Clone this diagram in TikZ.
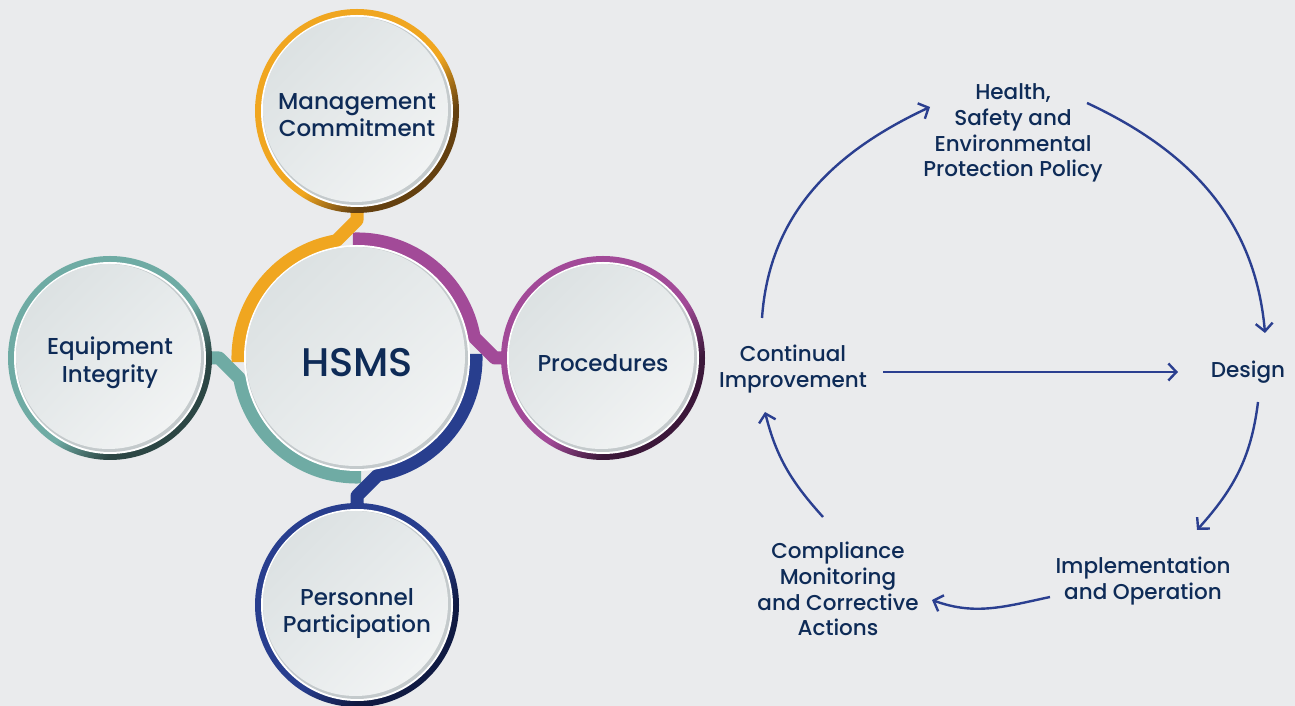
\documentclass[tikz,border=0pt]{standalone}
\usepackage{fontspec}
\setmainfont{Poppins}[UprightFont=* Medium]
\usetikzlibrary{arrows.meta,shadings}
\definecolor{bgc}{RGB}{234,235,237}
\definecolor{txt}{RGB}{14,43,87}
\definecolor{arrc}{RGB}{43,63,144}
\definecolor{oM}{RGB}{240,166,32}
\definecolor{oD}{RGB}{100,64,16}
\definecolor{pM}{RGB}{162,74,152}
\definecolor{pD}{RGB}{60,24,58}
\definecolor{nM}{RGB}{40,62,142}
\definecolor{nD}{RGB}{16,26,66}
\definecolor{tM}{RGB}{111,171,164}
\definecolor{tD}{RGB}{44,70,68}
\definecolor{gA}{RGB}{216,222,223}
\definecolor{gB}{RGB}{246,247,247}
\definecolor{gM}{RGB}{230,234,235}
\definecolor{shd}{RGB}{196,202,204}
\pgfdeclareverticalshading{ringO}{100bp}{color(0bp)=(oD); color(33bp)=(oD); color(45bp)=(oM); color(100bp)=(oM)}
\pgfdeclareverticalshading{ringP}{100bp}{color(0bp)=(pD); color(33bp)=(pD); color(45bp)=(pM); color(100bp)=(pM)}
\pgfdeclareverticalshading{ringN}{100bp}{color(0bp)=(nD); color(33bp)=(nD); color(45bp)=(nM); color(100bp)=(nM)}
\pgfdeclareverticalshading{ringT}{100bp}{color(0bp)=(tD); color(33bp)=(tD); color(45bp)=(tM); color(100bp)=(tM)}
\tikzset{
  innerdisc/.style={upper left=gA, upper right=gM, lower left=gM, lower right=gB},
  sattext/.style={align=center, text=txt, font=\fontsize{23}{27.5}\selectfont, inner sep=0pt},
  cyctext/.style={align=center, text=txt, font=\fontsize{21.5}{25.7}\selectfont, inner sep=0pt},
  arr/.style={line width=2.4pt, draw=arrc, -{Straight Barb[length=8pt,width=17pt]}},
  ringpiece/.style={line width=13pt, line join=round},
}
\begin{document}
\begin{tikzpicture}[x=1pt,y=1pt]
\fill[bgc] (0,0) rectangle (1295,706);
\useasboundingbox (0,0) rectangle (1295,706);
\coordinate (H) at (357,348);
\coordinate (T) at (357,595);
\coordinate (R) at (603,348);
\coordinate (B) at (357,101);
\coordinate (L) at (110,348);
% ring pieces with connectors
\foreach \ang/\col in {180/tM,-90/nM,0/pM,90/oM}{
  \begin{scope}[shift={(H)}, rotate=\ang]
    \draw[ringpiece, draw=\col] (150,0) -- (137.9,0) -- (117.2,20.7) arc[start angle=10, end angle=92, radius=119];
  \end{scope}
}
% HSMS disc
\fill[white] (H) circle (113);
\fill[shd] (H) circle (111);
\shade[innerdisc] ([shift={(-1.5,1.5)}]H) circle (109.5);
\node[text=txt, font=\fontsize{40}{42}\selectfont, inner sep=0pt] (hsms) at ([yshift=-5]H) {HSMS};
% satellites
\foreach \c/\sh in {T/ringO,R/ringP,B/ringN,L/ringT}{
  \shade[shading=\sh, shading angle=45] (\c) circle (102);
  \fill[white] (\c) circle (96);
  \fill[shd] (\c) circle (94);
  \shade[innerdisc] ([shift={(-1.5,1.5)}]\c) circle (92.5);
}
\node[sattext] (mc) at ([yshift=-4]T) {Management\\Commitment};
\node[sattext] (pr) at ([yshift=-5]R) {Procedures};
\node[sattext] (pp) at ([yshift=-8.5]B) {Personnel\\Participation};
\node[sattext] (ei) at ([yshift=-5]L) {Equipment\\Integrity};
% cycle texts
\node[cyctext] (pol) at (1013,573) {Health,\\Safety and\\Environmental\\Protection Policy};
\node[cyctext] (ci) at (793,337) {Continual\\Improvement};
\node[cyctext] (des) at (1248,334) {Design};
\node[cyctext] (imp) at (1143,125) {Implementation\\and Operation};
\node[cyctext] (cm) at (838,117) {Compliance\\Monitoring\\and Corrective\\Actions};
% arrow end points
\coordinate (a1s) at (762,388); \coordinate (a1e) at (930,599);
\coordinate (a2s) at (1087,603); \coordinate (a2e) at (1265,373);
\coordinate (a3s) at (883,334); \coordinate (a3e) at (1178,334);
\coordinate (a4s) at (1258,304); \coordinate (a4e) at (1197,176);
\coordinate (a5s) at (1050,109); \coordinate (a5e) at (932,106);
\coordinate (a6s) at (823,189); \coordinate (a6e) at (765,294);
\draw[arr] (a1s) to[out=86, in=205] (a1e);
\draw[arr] (a2s) to[out=-25, in=95] (a2e);
\draw[arr] (a3s) -- (a3e);
\draw[arr] (a4s) to[out=-97, in=48] (a4e);
\draw[arr] (a5s) to[out=192, in=-20] (a5e);
\draw[arr] (a6s) to[out=132, in=-76] (a6e);
\end{tikzpicture}
\end{document}
